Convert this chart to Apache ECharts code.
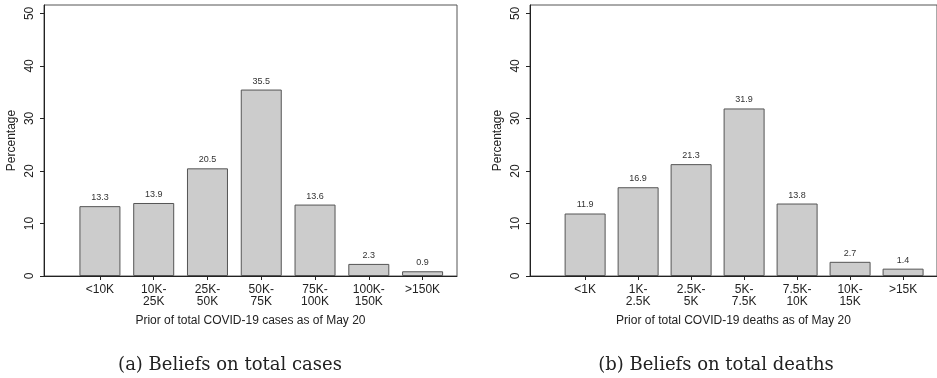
<!DOCTYPE html>
<html>
<head>
<meta charset="utf-8">
<script src="https://cdn.jsdelivr.net/npm/echarts@6/dist/echarts.min.js"></script>
<style>
html,body{margin:0;padding:0;background:#fff;}
#chart{width:937px;height:378px;}
</style>
</head>
<body>
<div id="chart"></div>
<script>
// ---- data ----
var casesCategories = ['<10K', '10K-\n25K', '25K-\n50K', '50K-\n75K', '75K-\n100K', '100K-\n150K', '>150K'];
var casesValues = [13.3, 13.9, 20.5, 35.5, 13.6, 2.3, 0.9];
var deathsCategories = ['<1K', '1K-\n2.5K', '2.5K-\n5K', '5K-\n7.5K', '7.5K-\n10K', '10K-\n15K', '>15K'];
var deathsValues = [11.9, 16.9, 21.3, 31.9, 13.8, 2.7, 1.4];
var yTickValues = [0, 10, 20, 30, 40, 50];
var casesAxisTitle = 'Prior of total COVID-19 cases as of May 20';
var deathsAxisTitle = 'Prior of total COVID-19 deaths as of May 20';
var captionA = '(a) Beliefs on total cases';
var captionB = '(b) Beliefs on total deaths';

var positions = casesValues.map(function (v, i) { return i + 1; });
var sans = 'Liberation Sans';
var axisColor = '#222';

function xAxisFor(cats, title, gi) {
  return {
    type: 'value', gridIndex: gi, min: -0.04, max: 7.64,
    name: title, nameLocation: 'middle', nameGap: 39,
    nameTextStyle: { fontFamily: sans, fontSize: 12, color: '#222' },
    axisLine: { show: true, onZero: false, lineStyle: { color: axisColor, width: 1 } },
    axisTick: { show: true, length: 4, customValues: positions, lineStyle: { color: axisColor } },
    axisLabel: {
      customValues: positions, margin: 8, fontFamily: sans, fontSize: 12, color: '#222', lineHeight: 12,
      formatter: function (v) { return cats[Math.round(v) - 1] || ''; }
    },
    splitLine: { show: false }
  };
}
function yAxisFor(gi) {
  return {
    type: 'value', gridIndex: gi, min: 0, max: 51.6,
    name: 'Percentage', nameLocation: 'middle', nameGap: 26, nameRotate: 90,
    nameTextStyle: { fontFamily: sans, fontSize: 12, color: '#222' },
    axisLine: { show: true, onZero: false, lineStyle: { color: axisColor, width: 1 } },
    axisTick: { show: true, length: 4, customValues: yTickValues, lineStyle: { color: axisColor } },
    axisLabel: { customValues: yTickValues, rotate: 90, margin: 14, fontFamily: sans, fontSize: 12, color: '#222',
      verticalAlign: 'middle', align: 'center' },
    splitLine: { show: false }
  };
}
function seriesFor(vals, gi) {
  return {
    type: 'bar', xAxisIndex: gi, yAxisIndex: gi, barWidth: 41,
    data: vals.map(function (v, i) { return [i + 1, v]; }),
    itemStyle: { color: '#cccccc', borderColor: '#555', borderWidth: 1 },
    label: { show: true, position: 'top', distance: 4, fontFamily: sans, fontSize: 9, color: '#333',
      formatter: function (p) { return p.value[1].toFixed(1); } },
    silent: true, animation: false
  };
}

var chart = echarts.init(document.getElementById('chart'), null, { renderer: 'canvas' });
chart.setOption({
  animation: false,
  grid: [
    { left: 44, top: 5, width: 413, height: 271, show: true, borderColor: '#555', borderWidth: 1, backgroundColor: 'transparent' },
    { left: 530, top: 5, width: 413, height: 271, show: true, borderColor: '#555', borderWidth: 1, backgroundColor: 'transparent' }
  ],
  xAxis: [xAxisFor(casesCategories, casesAxisTitle, 0), xAxisFor(deathsCategories, deathsAxisTitle, 1)],
  yAxis: [yAxisFor(0), yAxisFor(1)],
  series: [seriesFor(casesValues, 0), seriesFor(deathsValues, 1)],
  title: [
    { text: captionA, left: 230, top: 356, textAlign: 'center', padding: 0,
      textStyle: { fontFamily: 'DejaVu Serif', fontWeight: 'normal', fontSize: 18, color: '#222' } },
    { text: captionB, left: 716, top: 356, textAlign: 'center', padding: 0,
      textStyle: { fontFamily: 'DejaVu Serif', fontWeight: 'normal', fontSize: 18, color: '#222' } }
  ]
});
</script>
</body>
</html>
